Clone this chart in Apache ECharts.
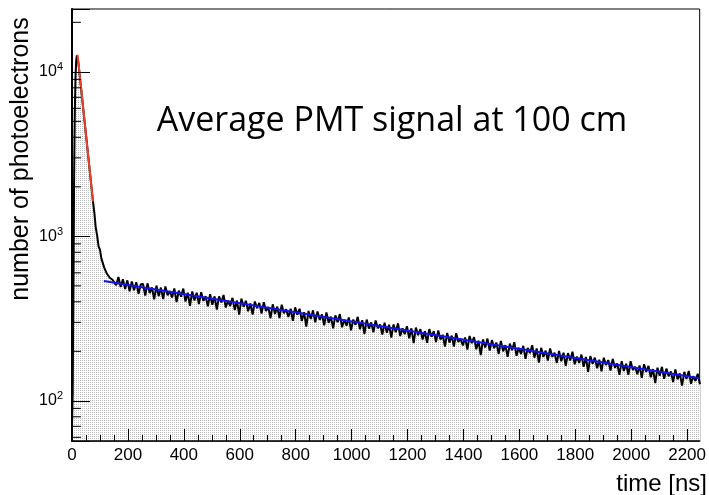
<!DOCTYPE html>
<html>
<head>
<meta charset="utf-8">
<script src="https://cdn.jsdelivr.net/npm/echarts@6/dist/echarts.min.js"></script>
<style>
html,body{margin:0;padding:0;background:#fff;}
#c{width:709px;height:495px;}
</style>
</head>
<body>
<div id="c"></div>
<script>
// ---------------- data ----------------
const titleText = 'Average PMT signal at 100 cm';
const xTitle = 'time [ns]';
const yTitle = 'number of photoelectrons';

const xTickLabels = [0, 200, 400, 600, 800, 1000, 1200, 1400, 1600, 1800, 2000, 2200];
const yTickLabels = [100, 1000, 10000];

// rising edge + prompt peak region (ns, counts)
const headTimes  = [0, 2.5, 5, 7.5, 10, 12.5, 15, 17.5, 20, 22.5, 25, 30, 35, 40, 45, 50, 55, 60, 65, 70, 75, 80, 85, 90, 95, 100, 105, 110, 115, 120, 125, 130, 135, 140, 145];
const headCounts = [70, 110, 450, 2200, 5600, 9300, 11700, 12600, 12700, 11500, 10500, 8700, 7250, 6000, 5000, 4150, 3440, 2860, 2370, 1970, 1630, 1390, 1130, 1010, 870, 830, 735, 715, 648, 640, 592, 594, 560, 566, 545];

// slow tail, 8 ns bins starting at 150 ns
const tailStart = 150;
const tailBin = 8;
const tailCounts = [
560,505,566,492,548,478,540,463,532,470,526,448,512,
513,437,518,452,489,414,502,433,488,415,496,439,464,
425,482,398,468,430,481,401,454,378,462,408,454,387,
458,405,432,376,445,384,432,359,432,397,440,369,407,
377,423,357,407,334,418,373,406,350,391,335,402,366,
394,339,398,352,372,318,386,337,374,319,384,341,360,
323,363,306,370,334,363,306,346,283,352,314,355,300,
349,311,335,288,345,298,325,276,331,301,337,280,312,
286,321,268,312,290,324,272,309,255,312,275,300,261,
308,276,291,253,299,259,290,242,291,261,296,248,276,
254,284,240,276,224,279,251,273,236,265,225,273,245,
265,228,268,236,252,214,259,226,249,214,258,228,239,
217,243,205,248,224,244,206,232,190,236,211,239,202,
234,209,226,193,231,200,218,185,223,203,227,188,210,
193,216,180,210,195,218,183,208,171,210,185,202,176,
208,185,196,170,201,174,196,163,195,176,199,167,186,
170,191,161,185,150,187,168,183,158,178,151,183,165,
177,153,180,159,169,144,174,152,168,144,174,154,161,
145,164,138,167,150,163,139,156,128,159,142,161,136,
157,141,151,130,155,135,147,124,150,136,152,127,141,
132,146,126
];

// fitted curves (endpoints; straight in log scale)
const fastFitTimes  = [20, 75];
const fastFitCounts = [12700, 1630];
const slowFitTimes  = [114, 2245];
const slowFitCounts = [536, 137];

const xMinorTicks = [];
for (let v = 50; v < 2245; v += 50) if (v % 200 !== 0) xMinorTicks.push(v);
const yMinorTicks = [60, 70, 80, 90, 200, 300, 400, 500, 600, 700, 800, 900,
                     2000, 3000, 4000, 5000, 6000, 7000, 8000, 9000, 20000];

// ---------------- build ----------------
const histData = [];
headTimes.forEach((t, i) => histData.push([t, headCounts[i]]));
tailCounts.forEach((c, i) => histData.push([tailStart + i * tailBin, c]));
const fastData = fastFitTimes.map((t, i) => [t, fastFitCounts[i]]);
const slowData = slowFitTimes.map((t, i) => [t, slowFitCounts[i]]);

const FONT = 'Liberation Sans, Arial, Helvetica, sans-serif';
const XMIN = 0, XMAX = 2245, YMIN = 57, YMAX = 24100;
const MINOR_TICK_SPAN = 32; // tick length expressed along the time axis

// minor y ticks as short broken line segments, positioned through the axes
const yMinorTickData = [];
yMinorTicks.forEach(v => {
  yMinorTickData.push([XMIN, v], [XMIN + MINOR_TICK_SPAN, v], [XMIN + MINOR_TICK_SPAN, null]);
});

const pc = document.createElement('canvas');
pc.width = 2; pc.height = 2;
const pctx = pc.getContext('2d');
pctx.fillStyle = '#ffffff'; pctx.fillRect(0, 0, 2, 2);
pctx.fillStyle = '#bdbdbd'; pctx.fillRect(0, 0, 1, 1);

const chart = echarts.init(document.getElementById('c'), null, {renderer: 'canvas'});
chart.setOption({
  animation: false,
  backgroundColor: '#fff',
  grid: {left: 72, top: 9, right: 2, bottom: 54, show: true, borderColor: '#000', borderWidth: 1, containLabel: false},
  xAxis: [{
    type: 'value', min: XMIN, max: XMAX, z: 10,
    axisLine: {show: true, onZero: false, lineStyle: {color: '#000', width: 1.5}},
    axisTick: {show: true, inside: true, length: 12, customValues: xTickLabels, lineStyle: {color: '#000', width: 1}},
    axisLabel: {show: true, customValues: xTickLabels, color: '#000', fontFamily: FONT, fontSize: 17, margin: 6, formatter: v => String(v)},
    splitLine: {show: false}
  }, {
    type: 'value', min: XMIN, max: XMAX, position: 'bottom', z: 10,
    axisLine: {show: false},
    axisTick: {show: true, inside: true, length: 6, customValues: xMinorTicks, lineStyle: {color: '#000', width: 1}},
    axisLabel: {show: false},
    splitLine: {show: false}
  }],
  yAxis: [{
    type: 'log', min: YMIN, max: YMAX, z: 10,
    axisLine: {show: true, onZero: false, lineStyle: {color: '#000', width: 2}},
    axisTick: {show: true, inside: true, length: 18, lineStyle: {color: '#000', width: 1}},
    axisLabel: {
      show: true, color: '#000', fontFamily: FONT, fontSize: 16, margin: 9,
      formatter: v => (v > 60 && v < 20000) ? '10{sup|' + Math.round(Math.log10(v)) + '}' : '',
      rich: {sup: {fontSize: 11, fontFamily: FONT, color: '#000', verticalAlign: 'top', padding: [0, 0, 9, 0]}}
    },
    splitLine: {show: false}
  }],
  series: [{
    type: 'line', data: histData, xAxisIndex: 0, yAxisIndex: 0,
    showSymbol: false, symbol: 'none', sampling: null, clip: true,
    lineStyle: {color: '#000', width: 2},
    areaStyle: {color: {image: pc, repeat: 'repeat'}, opacity: 1, origin: 'start'},
    z: 2
  }, {
    type: 'line', data: fastData, showSymbol: false, symbol: 'none',
    lineStyle: {color: '#e8432e', width: 2}, z: 4
  }, {
    type: 'line', data: slowData, showSymbol: false, symbol: 'none',
    lineStyle: {color: '#1414f0', width: 2}, z: 4
  }, {
    type: 'line', data: yMinorTickData, showSymbol: false, symbol: 'none', silent: true,
    connectNulls: false, clip: false,
    lineStyle: {color: '#000', width: 1}, z: 12
  }],
  graphic: [{
    type: 'text', x: 392, y: 121,
    style: {text: titleText, fontFamily: 'Open Sans, sans-serif', fontSize: 34, fill: '#000', textAlign: 'center', textVerticalAlign: 'middle'}
  }, {
    type: 'text', x: 707, y: 484,
    style: {text: xTitle, fontFamily: FONT, fontSize: 24, fill: '#000', textAlign: 'right', textVerticalAlign: 'middle'}
  }, {
    type: 'text', x: 21, y: 159, rotation: Math.PI / 2,
    style: {text: yTitle, fontFamily: FONT, fontSize: 25, fill: '#000', textAlign: 'center', textVerticalAlign: 'middle'}
  }]
});
</script>
</body>
</html>
